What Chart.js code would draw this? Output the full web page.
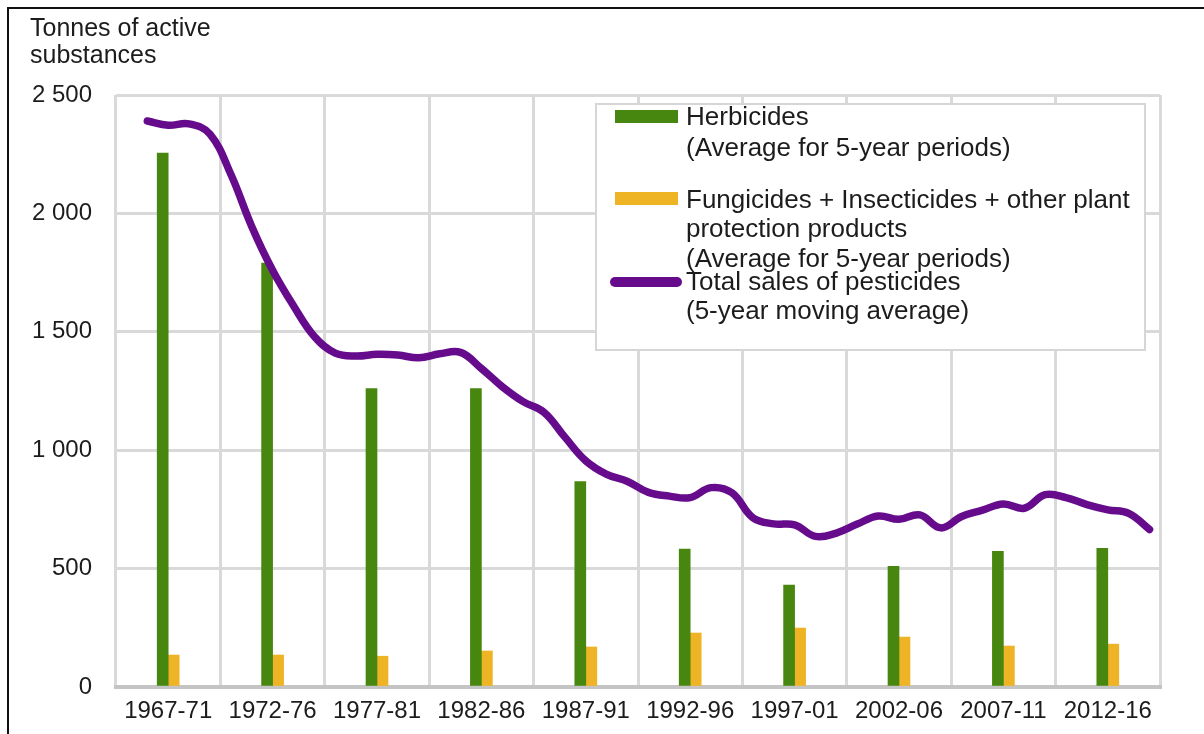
<!DOCTYPE html>
<html>
<head>
<meta charset="utf-8">
<script src="https://cdn.jsdelivr.net/npm/chart.js@4.4.1/dist/chart.umd.min.js"></script>
<style>
  html, body { margin: 0; padding: 0; background: #ffffff; }
  #wrap { position: relative; width: 1204px; height: 734px; overflow: hidden; background: #fff; }
  #c { position: absolute; left: 0; top: 0; }
  #frame { position: absolute; left: 7px; top: 7px; width: 1210px; height: 740px;
           border-left: 2px solid #111; border-top: 2px solid #111; pointer-events: none; }
  .t { position: absolute; font-family: "Liberation Sans", Arial, sans-serif; color: #1c1c1c;
       white-space: nowrap; }
  .ax { font-size: 25px; line-height: 28px; }
  .lg { font-size: 26px; line-height: 30px; }
  #legendBox { position: absolute; left: 595px; top: 103px; width: 551px; height: 248px;
               box-sizing: border-box; background: #fff; border: 2px solid #d6d6d6; }
  .sw { position: absolute; }
</style>
</head>
<body>
<div id="wrap">
  <canvas id="c" width="1204" height="734"></canvas>
  <div id="frame"></div>
  <div class="t ax" style="left:30px; top:13px;">Tonnes of active</div>
  <div class="t ax" style="left:30px; top:40px;">substances</div>
  <div id="legendBox"></div>
  <div id="legendItems"></div>
</div>
<script>
// ---- data ----
const periods = ['1967-71','1972-76','1977-81','1982-86','1987-91','1992-96','1997-01','2002-06','2007-11','2012-16'];
const herbicides = [2255, 1790, 1260, 1260, 868, 582, 430, 510, 573, 586];
const otherProducts = [135, 135, 130, 152, 169, 228, 249, 211, 173, 181];
const years = [1968,1969,1970,1971,1972,1973,1974,1975,1976,1977,1978,1979,1980,1981,1982,1983,1984,1985,1986,1987,
               1988,1989,1990,1991,1992,1993,1994,1995,1996,1997,1998,1999,2000,2001,2002,2003,2004,2005,2006,2007,
               2008,2009,2010,2011,2012,2013,2014,2015,2016];
const totalSales = [2390,2372,2378,2335,2165,1945,1760,1610,1480,1410,1398,1405,1402,1390,1407,1413,1345,1268,1205,1160,
                    1055,955,898,868,822,806,800,842,820,715,689,685,636,650,688,722,708,727,672,720,
                    747,773,755,812,800,770,748,733,665];
const yTickValues = [0, 500, 1000, 1500, 2000, 2500];
const yTickLabels = ['0', '500', '1 000', '1 500', '2 000', '2 500'];
const legendLabels = [
  ['Herbicides', '(Average for 5-year periods)'],
  ['Fungicides + Insecticides + other plant', 'protection products', '(Average for 5-year periods)'],
  ['Total sales of pesticides', '(5-year moving average)']
];

// ---- style ----
const GREEN = '#47870f';
const YELLOW = '#eeb425';
const PURPLE = '#650b8c';
const GRID = '#d9d9d9';
const TEXT = '#1c1c1c';
const FONT = '"Liberation Sans", Arial, sans-serif';

const linePoints = years.map((yr, i) => ({ x: yr, y: totalSales[i] }));

new Chart(document.getElementById('c'), {
  data: {
    labels: periods,
    datasets: [
      { type: 'line', label: legendLabels[2].join(' '), data: linePoints, xAxisID: 'x2', yAxisID: 'y',
        borderColor: PURPLE, borderWidth: 7.5, pointRadius: 0, tension: 0.4,
        borderCapStyle: 'round', borderJoinStyle: 'round', fill: false, order: 0 },
      { type: 'bar', label: legendLabels[0].join(' '), data: herbicides, xAxisID: 'x', yAxisID: 'y',
        backgroundColor: GREEN, barThickness: 11, order: 1 },
      { type: 'bar', label: legendLabels[1].join(' '), data: otherProducts, xAxisID: 'x', yAxisID: 'y',
        backgroundColor: YELLOW, barThickness: 11, order: 1 }
    ]
  },
  options: {
    responsive: false,
    animation: false,
    layout: { padding: { top: 95, right: 44, bottom: 0, left: 0 } },
    plugins: { legend: { display: false }, tooltip: { enabled: false }, title: { display: false } },
    scales: {
      x: {
        type: 'category',
        offset: true,
        grid: { display: true, offset: true, color: GRID, lineWidth: 3, drawTicks: false },
        border: { display: true, color: '#c4c4c4', width: 4 },
        ticks: { color: TEXT, font: { family: FONT, size: 24 }, padding: 10, maxRotation: 0, autoSkip: false },
        afterFit: (s) => { s.height = 47; }
      },
      x2: {
        type: 'linear',
        display: false,
        min: 1966.5,
        max: 2016.5
      },
      y: {
        type: 'linear',
        min: 0,
        max: 2500,
        afterBuildTicks: (s) => { s.ticks = yTickValues.map(v => ({ value: v })); },
        grid: { color: GRID, lineWidth: 3, drawTicks: false },
        border: { display: false },
        ticks: {
          color: TEXT, font: { family: FONT, size: 24 }, padding: 24,
          callback: (v) => { const i = yTickValues.indexOf(v); return i >= 0 ? yTickLabels[i] : ''; }
        },
        afterFit: (s) => { s.width = 116; }
      }
    }
  }
});

// ---- HTML legend (inside plot area, top-right) ----
const items = document.getElementById('legendItems');
const swatches = [
  { color: GREEN, left: 615, top: 110, w: 63, h: 13, r: 0 },
  { color: YELLOW, left: 615, top: 192, w: 63, h: 13, r: 0 },
  { color: PURPLE, left: 610, top: 277, w: 72, h: 10, r: 5 }
];
const lineTops = [[101, 132], [184, 213, 243], [266, 295]];
legendLabels.forEach((lines, k) => {
  const s = swatches[k];
  const d = document.createElement('div');
  d.className = 'sw';
  d.style.cssText = `left:${s.left}px;top:${s.top}px;width:${s.w}px;height:${s.h}px;background:${s.color};border-radius:${s.r}px;`;
  items.appendChild(d);
  lines.forEach((txt, j) => {
    const t = document.createElement('div');
    t.className = 't lg';
    t.style.left = '686px';
    t.style.top = lineTops[k][j] + 'px';
    t.textContent = txt;
    items.appendChild(t);
  });
});
</script>
</body>
</html>
